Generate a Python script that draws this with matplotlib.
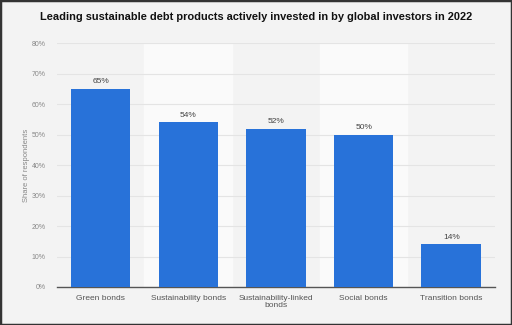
import matplotlib.pyplot as plt
import numpy as np

plt.rcParams['font.family'] = ['Liberation Sans', 'DejaVu Sans']

categories = ['Green bonds', 'Sustainability bonds', 'Sustainability-linked\nbonds',
              'Social bonds', 'Transition bonds']
values = [65, 54, 52, 50, 14]
yticks = [0, 10, 20, 30, 40, 50, 60, 70, 80]

bg = '#f3f3f3'
fig = plt.figure(figsize=(5.12, 3.25), dpi=100, facecolor=bg)
ax = fig.add_axes([0.111, 0.117, 0.856, 0.75], facecolor=bg)

x = np.arange(len(categories))
# lighter bands behind every second category
for i in x[1::2]:
    ax.axvspan(i - 0.5, i + 0.5, color='#fafafa', zorder=0)

ax.bar(x, values, width=0.68, color='#2872d9', zorder=3)
for xi, v in zip(x, values):
    ax.text(xi, v + 1.2, f'{v}%', ha='center', va='bottom', fontsize=6, color='#444444')

ax.set_xlim(-0.5, len(categories) - 0.5)
ax.set_ylim(0, 80)
ax.set_yticks(yticks)
ax.set_yticklabels([f'{t}%' for t in yticks], fontsize=5, color='#888888')
ax.yaxis.grid(True, color='#e4e4e4', linewidth=0.8, zorder=1)
ax.set_xticks(x)
ax.set_xticklabels(categories, fontsize=6, color='#555555', linespacing=1.0)
ax.tick_params(length=0, pad=6)
ax.tick_params(axis='y', pad=8)
for s in ['top', 'right', 'left']:
    ax.spines[s].set_visible(False)
ax.spines['bottom'].set_color('#555555')
ax.spines['bottom'].set_linewidth(1.0)
ax.set_ylabel('Share of respondents', fontsize=5.5, color='#888888')
ax.yaxis.set_label_coords(-0.062, 0.5)

fig.suptitle('Leading sustainable debt products actively invested in by global investors in 2022',
             fontsize=7.9, fontweight='bold', y=0.962, color='#111111')

# dark frame around the picture
fig.patches.append(plt.Rectangle((0, 0), 1, 1, transform=fig.transFigure, fill=False,
                                 edgecolor='#333333', linewidth=2.5))

fig.savefig('out.png', dpi=100, facecolor=bg)
